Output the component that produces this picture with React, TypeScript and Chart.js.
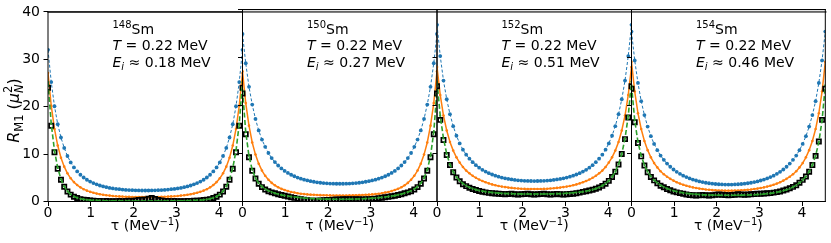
import React, { useEffect, useRef } from 'react';
import { Chart, registerables } from 'chart.js';

Chart.register(...registerables);

// ---------- data ----------
const BETA = 1 / 0.22; // 1/T in MeV^-1
const N_TAU = 60;
const TAU = Array.from({ length: N_TAU + 1 }, (_, i) => (i * BETA) / N_TAU);

const NUCLEI = ['148', '150', '152', '154'];
const TEMPERATURES = ['0.22', '0.22', '0.22', '0.22'];
const EXCITATIONS = ['0.18', '0.27', '0.51', '0.46'];
const X_TICKS = [0, 1, 2, 3, 4];
const Y_TICKS = [0, 10, 20, 30, 40];

const BLUE_148 = [32.0,25.2,20.1,16.3,13.5,11.3,9.6,8.25,7.18,6.34,5.64,5.06,4.59,4.2,3.88,3.62,3.38,3.18,3.02,2.87,2.75,2.66,2.59,2.52,2.45,2.42,2.38,2.35,2.34,2.32,2.32,2.32,2.34,2.35,2.38,2.42,2.45,2.52,2.59,2.66,2.75,2.87,3.02,3.18,3.38,3.62,3.88,4.2,4.59,5.06,5.64,6.34,7.18,8.25,9.6,11.3,13.5,16.3,20.1,25.2,32.0];
const ORANGE_148 = [27.1,20.2,15.3,11.8,9.24,7.35,5.95,4.89,4.09,3.47,2.98,2.6,2.29,2.04,1.84,1.67,1.54,1.42,1.32,1.25,1.17,1.11,1.08,1.03,1.01,0.98,0.96,0.95,0.94,0.93,0.93,0.93,0.94,0.95,0.96,0.98,1.01,1.03,1.08,1.11,1.17,1.25,1.32,1.42,1.54,1.67,1.84,2.04,2.29,2.6,2.98,3.47,4.09,4.89,5.95,7.35,9.24,11.8,15.3,20.2,27.1];
const GREEN_148 = [25.2,16.4,10.74,7.08,4.71,3.17,2.17,1.5,1.07,0.78,0.58,0.45,0.36,0.29,0.25,0.22,0.19,0.17,0.16,0.15,0.14,0.13,0.13,0.12,0.12,0.12,0.11,0.11,0.11,0.11,0.11,0.11,0.11,0.11,0.11,0.12,0.12,0.12,0.13,0.13,0.14,0.15,0.16,0.17,0.19,0.22,0.25,0.29,0.36,0.45,0.58,0.78,1.07,1.5,2.17,3.17,4.71,7.08,10.74,16.4,25.2];
const BLACK_148 = [24.0,16.0,10.4,6.9,4.6,3.1,2.1,1.45,1.0,0.72,0.5,0.38,0.3,0.22,0.18,0.12,0.1,0.08,0.1,0.06,0.05,0.08,0.1,0.06,0.12,0.15,0.1,0.2,0.3,0.35,0.4,0.6,0.75,0.55,0.3,0.2,0.12,0.1,0.08,0.1,0.05,0.06,0.08,0.1,0.12,0.15,0.18,0.22,0.3,0.38,0.5,0.72,1.0,1.45,2.1,3.1,4.6,6.9,10.4,16.0,24.0];

const BLUE_150 = [34.9,28.8,23.9,20.2,17.2,14.8,12.9,11.4,10.1,9.05,8.22,7.5,6.9,6.38,5.95,5.57,5.26,4.99,4.75,4.55,4.39,4.24,4.11,4.0,3.91,3.84,3.78,3.74,3.71,3.7,3.7,3.7,3.71,3.74,3.78,3.84,3.91,4.0,4.11,4.24,4.39,4.55,4.75,4.99,5.26,5.57,5.95,6.38,6.9,7.5,8.22,9.05,10.1,11.4,12.9,14.8,17.2,20.2,23.9,28.8,34.9];
const ORANGE_150 = [27.1,20.5,15.8,12.3,9.77,7.88,6.45,5.36,4.53,3.88,3.37,2.97,2.64,2.39,2.17,1.99,1.86,1.73,1.63,1.54,1.48,1.43,1.39,1.36,1.32,1.31,1.28,1.27,1.26,1.26,1.26,1.26,1.26,1.27,1.28,1.31,1.32,1.36,1.39,1.43,1.48,1.54,1.63,1.73,1.86,1.99,2.17,2.39,2.64,2.97,3.37,3.88,4.53,5.36,6.45,7.88,9.77,12.3,15.8,20.5,27.1];
const GREEN_150 = [23.2,14.45,9.48,6.6,4.87,3.8,3.09,2.6,2.24,1.96,1.73,1.54,1.37,1.23,1.12,1.03,0.94,0.87,0.79,0.73,0.68,0.63,0.6,0.57,0.53,0.51,0.49,0.48,0.47,0.47,0.46,0.47,0.47,0.48,0.49,0.51,0.53,0.57,0.6,0.63,0.68,0.73,0.79,0.87,0.94,1.03,1.12,1.23,1.37,1.54,1.73,1.96,2.24,2.6,3.09,3.8,4.87,6.6,9.48,14.45,23.2];
const BLACK_150 = [22.5,14.0,9.2,6.4,4.8,3.7,3.0,2.5,2.15,1.9,1.7,1.5,1.35,1.2,1.05,0.9,0.75,0.6,0.45,0.35,0.25,0.18,0.15,0.18,0.22,0.25,0.3,0.32,0.35,0.4,0.42,0.45,0.45,0.5,0.5,0.48,0.45,0.42,0.45,0.5,0.55,0.6,0.7,0.8,0.9,0.98,1.08,1.2,1.35,1.5,1.7,1.9,2.15,2.5,3.0,3.7,4.8,6.4,9.2,14.0,22.5];

const BLUE_152 = [36.8,30.3,25.2,21.3,18.2,15.7,13.7,12.1,10.8,9.75,8.92,8.19,7.57,7.05,6.6,6.23,5.9,5.62,5.37,5.17,4.98,4.83,4.7,4.6,4.5,4.42,4.36,4.31,4.28,4.27,4.26,4.27,4.28,4.31,4.36,4.42,4.5,4.6,4.7,4.83,4.98,5.17,5.37,5.62,5.9,6.23,6.6,7.05,7.57,8.19,8.92,9.75,10.8,12.1,13.7,15.7,18.2,21.3,25.2,30.3,36.8];
const ORANGE_152 = [28.0,22.2,17.9,14.8,12.4,10.6,9.2,8.1,7.2,6.44,5.87,5.36,4.94,4.57,4.27,4.0,3.77,3.56,3.38,3.23,3.1,3.0,2.9,2.83,2.75,2.7,2.65,2.62,2.6,2.59,2.59,2.59,2.6,2.62,2.65,2.7,2.75,2.83,2.9,3.0,3.1,3.23,3.38,3.56,3.77,4.0,4.27,4.57,4.94,5.36,5.87,6.44,7.2,8.1,9.2,10.6,12.4,14.8,17.9,22.2,28.0];
const GREEN_152 = [25.0,17.85,13.12,9.92,7.72,6.19,5.11,4.31,3.74,3.29,2.94,2.68,2.47,2.29,2.16,2.04,1.95,1.87,1.81,1.75,1.71,1.67,1.64,1.62,1.6,1.58,1.57,1.56,1.56,1.55,1.55,1.55,1.56,1.56,1.57,1.58,1.6,1.62,1.64,1.67,1.71,1.75,1.81,1.87,1.95,2.04,2.16,2.29,2.47,2.68,2.94,3.29,3.74,4.31,5.11,6.19,7.72,9.92,13.12,17.85,25.0];
const BLACK_152 = [24.0,17.0,12.8,9.7,7.6,6.1,5.0,4.2,3.6,3.2,2.85,2.6,2.4,2.2,2.05,1.9,1.8,1.72,1.65,1.6,1.55,1.5,1.55,1.6,1.5,1.45,1.5,1.55,1.6,1.5,1.45,1.5,1.55,1.6,1.5,1.45,1.5,1.55,1.5,1.45,1.5,1.55,1.6,1.7,1.85,2.0,2.15,2.3,2.45,2.65,2.9,3.25,3.7,4.3,5.1,6.2,7.7,9.9,13.0,17.5,24.0];

const BLUE_154 = [35.4,29.4,24.7,20.9,18.0,15.6,13.6,12.0,10.7,9.56,8.69,7.9,7.24,6.67,6.18,5.76,5.39,5.08,4.81,4.57,4.37,4.19,4.05,3.91,3.8,3.71,3.65,3.59,3.56,3.53,3.52,3.53,3.56,3.59,3.65,3.71,3.8,3.91,4.05,4.19,4.37,4.57,4.81,5.08,5.39,5.76,6.18,6.67,7.24,7.9,8.69,9.56,10.7,12.0,13.6,15.6,18.0,20.9,24.7,29.4,35.4];
const ORANGE_154 = [29.1,22.9,18.4,15.1,12.6,10.7,9.2,8.0,7.1,6.3,5.69,5.16,4.72,4.34,4.02,3.73,3.49,3.28,3.1,2.94,2.81,2.69,2.6,2.51,2.44,2.38,2.34,2.3,2.28,2.26,2.26,2.26,2.28,2.3,2.34,2.38,2.44,2.51,2.6,2.69,2.81,2.94,3.1,3.28,3.49,3.73,4.02,4.34,4.72,5.16,5.69,6.3,7.1,8.0,9.2,10.7,12.6,15.1,18.4,22.9,29.1];
const GREEN_154 = [24.2,16.9,12.4,9.53,7.58,6.21,5.21,4.45,3.86,3.39,3.02,2.71,2.45,2.24,2.06,1.92,1.8,1.7,1.62,1.56,1.5,1.45,1.41,1.38,1.36,1.34,1.32,1.31,1.3,1.3,1.3,1.3,1.3,1.31,1.32,1.34,1.36,1.38,1.41,1.45,1.5,1.56,1.62,1.7,1.8,1.92,2.06,2.24,2.45,2.71,3.02,3.39,3.86,4.45,5.21,6.21,7.58,9.53,12.4,16.9,24.2];
const BLACK_154 = [23.5,16.5,12.2,9.4,7.5,6.1,5.1,4.4,3.8,3.3,2.95,2.6,2.35,2.1,1.9,1.75,1.6,1.45,1.35,1.3,1.25,1.3,1.35,1.3,1.25,1.3,1.4,1.45,1.4,1.35,1.3,1.35,1.4,1.5,1.45,1.4,1.45,1.5,1.55,1.6,1.6,1.65,1.7,1.75,1.85,1.95,2.1,2.3,2.5,2.75,3.05,3.4,3.9,4.5,5.2,6.2,7.6,9.5,12.5,17.0,23.5];

const BLUE_SERIES = [BLUE_148, BLUE_150, BLUE_152, BLUE_154];
const ORANGE_SERIES = [ORANGE_148, ORANGE_150, ORANGE_152, ORANGE_154];
const GREEN_SERIES = [GREEN_148, GREEN_150, GREEN_152, GREEN_154];
const BLACK_SERIES = [BLACK_148, BLACK_150, BLACK_152, BLACK_154];

// ---------- layout / style ----------
const CW = 831;
const CH = 243;
const PANEL_LEFT = [48, 242.5, 437, 631.5];
const PANEL_W = 194.5;
const PLOT_TOP = 9.5;
const PLOT_BOTTOM = 201.5;
const Y_AXIS_W = 44;
const X_AXIS_H = 24;
const FAMILY = '"DejaVu Sans"';
const C_BLUE = '#1f77b4';
const C_ORANGE = '#ff7f0e';
const C_GREEN = '#2ca02c';

type Run = { t: string; s: number; it?: boolean; dy?: number; stack?: Run };

function setFont(ctx: CanvasRenderingContext2D, r: Run) {
  ctx.font = `${r.it ? 'italic ' : ''}${r.s}px ${FAMILY}`;
}
function runWidth(ctx: CanvasRenderingContext2D, r: Run) {
  setFont(ctx, r);
  let w = ctx.measureText(r.t).width;
  if (r.stack) {
    setFont(ctx, r.stack);
    w = Math.max(w, ctx.measureText(r.stack.t).width);
  }
  return w;
}
function runsWidth(ctx: CanvasRenderingContext2D, runs: Run[]) {
  return runs.reduce((a, r) => a + runWidth(ctx, r), 0);
}
function drawRuns(ctx: CanvasRenderingContext2D, x: number, y: number, runs: Run[]) {
  let cx = x;
  for (const r of runs) {
    setFont(ctx, r);
    ctx.fillText(r.t, cx, y + (r.dy || 0));
    if (r.stack) {
      setFont(ctx, r.stack);
      ctx.fillText(r.stack.t, cx, y + (r.stack.dy || 0));
    }
    cx += runWidth(ctx, r);
  }
}

function textPlugin(idx: number) {
  return {
    id: 'panelText' + idx,
    afterDraw(chart: any) {
      const { ctx, chartArea } = chart;
      const { left, right, top, bottom } = chartArea;
      ctx.save();
      ctx.fillStyle = '#000';
      // axes frame (spines) as 1px filled bars
      ctx.fillRect(left - 0.5, top - 0.5, right - left + 1, 1.1);
      ctx.fillRect(left - 0.5, bottom - 0.5, right - left + 1, 1);
      ctx.fillRect(left - 0.5, top - 0.5, 1, bottom - top + 1);
      ctx.fillRect(right - 0.5, top - 0.5, 1, bottom - top + 1);
      if (idx === 0) {
        // top spine shared by the whole row of panels
        ctx.fillRect(left - 0.5, top - 0.5, PANEL_W * PANEL_LEFT.length + 1, 1.1);
      }

      ctx.textAlign = 'left';
      ctx.textBaseline = 'alphabetic';
      const x0 = left + 64.5;
      drawRuns(ctx, x0, 33.5, [{ t: NUCLEI[idx], s: 10, dy: -5.5 }, { t: 'Sm', s: 14 }]);
      drawRuns(ctx, x0, 50, [{ t: 'T', s: 14, it: true }, { t: ' = ' + TEMPERATURES[idx] + ' MeV', s: 14 }]);
      drawRuns(ctx, x0, 67, [
        { t: 'E', s: 14, it: true },
        { t: 'i', s: 10, it: true, dy: 2.5 },
        { t: ' \u2248 ' + EXCITATIONS[idx] + ' MeV', s: 14 },
      ]);
      const xt: Run[] = [{ t: '\u03c4 (MeV', s: 14 }, { t: '\u22121', s: 10, dy: -5.5 }, { t: ')', s: 14 }];
      const xw = runsWidth(ctx, xt);
      drawRuns(ctx, (left + right) / 2 - xw / 2, 230, xt);
      if (idx === 0) {
        const yt: Run[] = [
          { t: 'R', s: 16, it: true },
          { t: 'M1', s: 11.5, dy: 3.5 },
          { t: ' (', s: 16 },
          { t: '\u03bc', s: 16, it: true },
          { t: 'N', s: 11.5, it: true, dy: 3.5, stack: { t: '2', s: 11.5, dy: -7 } },
          { t: ')', s: 16 },
        ];
        const yw = runsWidth(ctx, yt);
        ctx.translate(19, 110.5);
        ctx.rotate(-Math.PI / 2);
        drawRuns(ctx, -yw / 2, 0, yt);
      }
      ctx.restore();
    },
  };
}

function makeConfig(idx: number): any {
  const left = PANEL_LEFT[idx];
  const yW = idx === 0 ? Y_AXIS_W : 0;
  const pts = (arr: number[]) => TAU.map((t, i) => ({ x: t, y: arr[i] }));
  const tickFont = { family: FAMILY, size: 14 };
  const grid = { drawOnChartArea: false, drawTicks: true, tickLength: 4.5, tickWidth: 1, color: '#000' };
  return {
    type: 'line',
    data: {
      datasets: [
        {
          data: pts(GREEN_SERIES[idx]),
          borderColor: C_GREEN,
          borderWidth: 1.6,
          borderDash: [5, 2.5],
          pointRadius: 1.1,
          pointBackgroundColor: C_GREEN,
          pointBorderWidth: 0,
          tension: 0,
          order: 0,
          clip: 0,
        },
        {
          data: pts(BLACK_SERIES[idx]),
          showLine: false,
          pointStyle: 'rect',
          pointRadius: 3.0,
          pointBorderColor: '#000',
          pointBorderWidth: 1.7,
          pointBackgroundColor: 'rgba(0,0,0,0)',
          order: 1,
          clip: 0,
        },
        {
          data: pts(ORANGE_SERIES[idx]),
          borderColor: C_ORANGE,
          borderWidth: 1.5,
          pointRadius: 1.3,
          pointBackgroundColor: C_ORANGE,
          pointBorderWidth: 0,
          tension: 0,
          order: 2,
          clip: 0,
        },
        {
          data: pts(BLUE_SERIES[idx]),
          borderColor: C_BLUE,
          borderWidth: 1,
          borderDash: [3, 2],
          pointRadius: 1.9,
          pointBackgroundColor: C_BLUE,
          pointBorderWidth: 0,
          tension: 0,
          order: 3,
          clip: 0,
        },
      ],
    },
    options: {
      responsive: false,
      animation: false,
      events: [],
      layout: {
        padding: {
          left: left - yW,
          right: CW - (left + PANEL_W),
          top: PLOT_TOP,
          bottom: CH - PLOT_BOTTOM - X_AXIS_H,
        },
      },
      plugins: { legend: { display: false }, tooltip: { enabled: false } },
      scales: {
        x: {
          type: 'linear',
          min: 0,
          max: BETA,
          afterBuildTicks: (s: any) => {
            s.ticks = X_TICKS.map((v) => ({ value: v }));
          },
          afterFit: (s: any) => {
            s.height = X_AXIS_H;
          },
          grid,
          border: { display: false },
          ticks: { color: '#000', font: tickFont, padding: -1, maxRotation: 0, autoSkip: false },
        },
        y: {
          type: 'linear',
          min: 0,
          max: 40,
          afterBuildTicks: (s: any) => {
            s.ticks = Y_TICKS.map((v) => ({ value: v }));
          },
          afterFit: (s: any) => {
            s.width = yW;
          },
          grid,
          border: { display: false },
          ticks: { display: idx === 0, color: '#000', font: tickFont, padding: 3.5 },
        },
      },
    },
    plugins: [textPlugin(idx)],
  };
}

function Panel({ index }: { index: number }) {
  const ref = useRef<HTMLCanvasElement>(null);
  useEffect(() => {
    const chart = new Chart(ref.current as HTMLCanvasElement, makeConfig(index));
    return () => chart.destroy();
  }, [index]);
  return (
    <canvas
      ref={ref}
      width={CW}
      height={CH}
      style={{ position: 'absolute', left: 0, top: 0, width: CW, height: CH }}
    />
  );
}

export default function App() {
  return (
    <div style={{ position: 'fixed', left: 0, top: 0, width: CW, height: CH, background: '#fff' }}>
      {[0, 1, 2, 3].map((i) => (
        <Panel key={i} index={i} />
      ))}
    </div>
  );
}
